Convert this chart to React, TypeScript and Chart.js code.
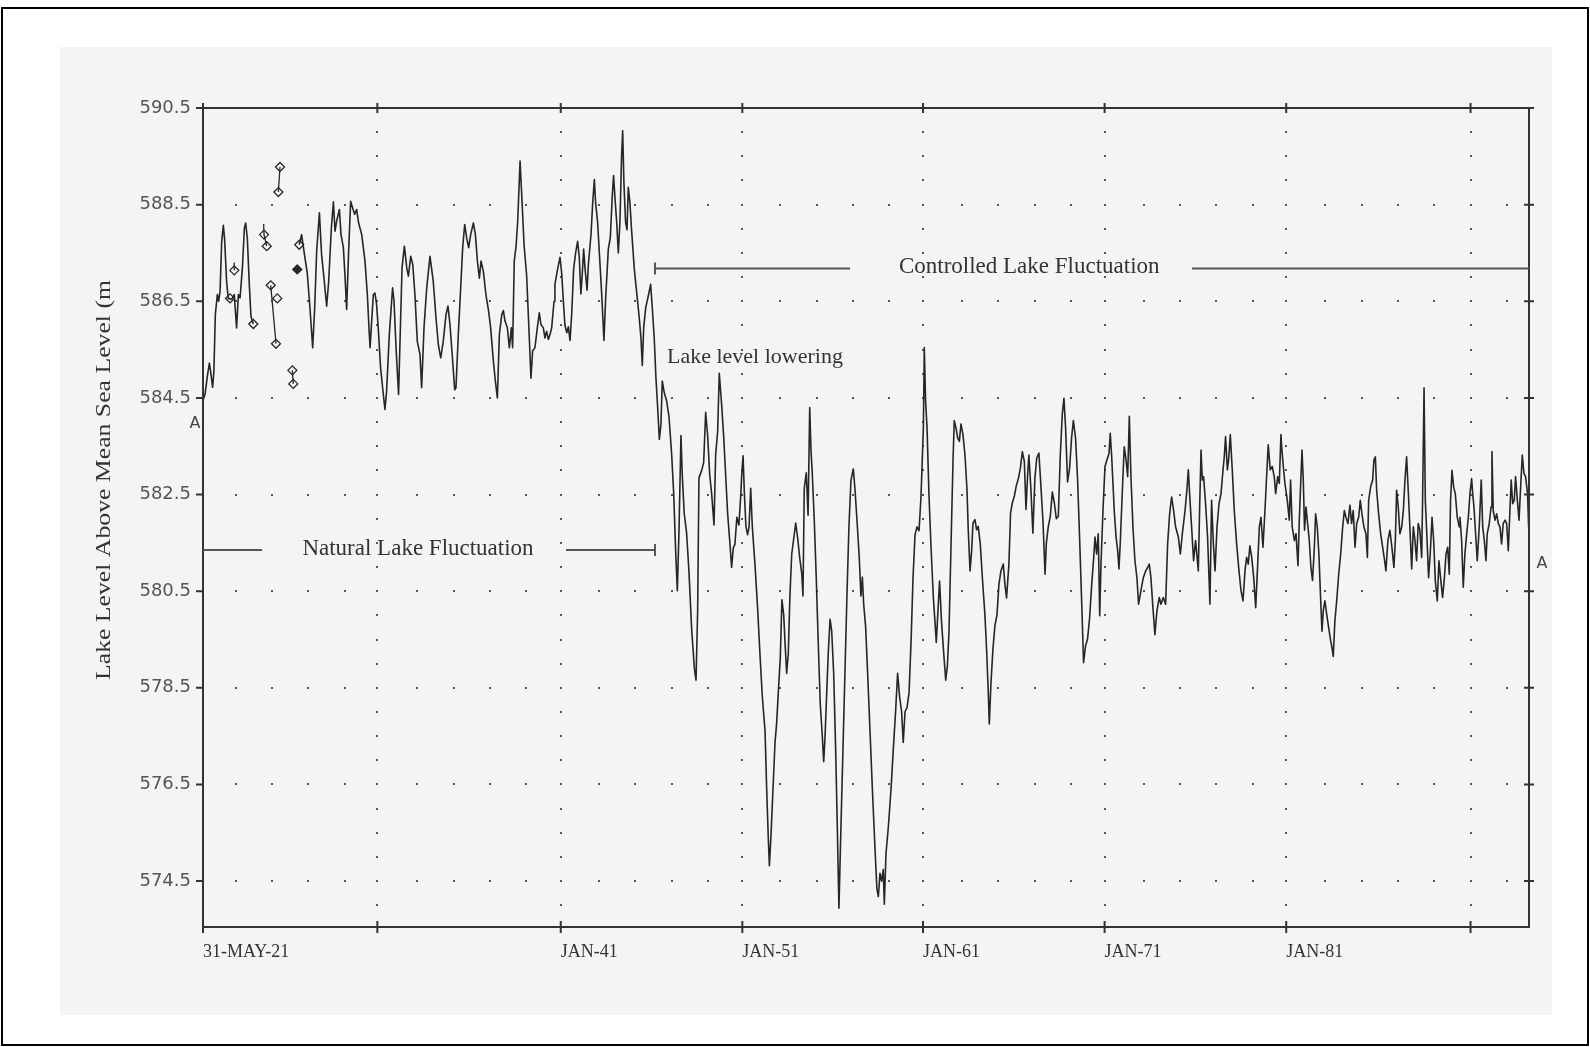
import { useEffect, useRef } from 'react';
import { Chart, registerables } from 'chart.js';

Chart.register(...registerables);

// ---------- axis definitions ----------
const X_MIN = 1921.4;
const X_MAX = 1994.42;
const Y_MIN = 573.55;
const Y_MAX = 590.5;
const xTickYears = [1921.4, 1931.0, 1941.1, 1951.1, 1961.05, 1971.05, 1981.05, 1991.2];
const xTickLabels = ['31-MAY-21', '', 'JAN-41', 'JAN-51', 'JAN-61', 'JAN-71', 'JAN-81', ''];
const yTickLevels = [574.5, 576.5, 578.5, 580.5, 582.5, 584.5, 586.5, 588.5, 590.5];
const yTitle = 'Lake Level Above Mean Sea Level (m';

// ---------- lake level series [year, level m] ----------
const natural1921: [number, number][] = [
  [1921.42, 584.47], [1921.51, 584.57], [1921.64, 584.95], [1921.75, 585.22], [1921.82, 585.05], [1921.93, 584.72],
  [1922.0, 585.05], [1922.08, 586.23], [1922.19, 586.64], [1922.26, 586.5], [1922.34, 586.71], [1922.43, 587.74],
  [1922.52, 588.07], [1922.59, 587.78], [1922.7, 586.91], [1922.79, 586.56], [1922.98, 586.54], [1923.12, 586.64],
  [1923.25, 585.95], [1923.35, 586.64], [1923.44, 586.57], [1923.57, 587.19], [1923.68, 588.02], [1923.75, 588.12],
  [1923.84, 587.81], [1923.95, 586.85], [1924.04, 586.19], [1924.17, 586.03],
];
const natural1926: [number, number][] = [
  [1926.7, 587.67], [1926.83, 587.88], [1926.96, 587.54], [1927.14, 587.09], [1927.29, 586.36], [1927.44, 585.54],
  [1927.55, 586.36], [1927.66, 587.54], [1927.81, 588.33], [1927.93, 587.47], [1928.08, 586.91], [1928.21, 586.4],
  [1928.32, 586.91], [1928.47, 588.02], [1928.58, 588.56], [1928.67, 587.95], [1928.76, 588.16], [1928.91, 588.4],
  [1929.0, 587.88], [1929.13, 587.61], [1929.22, 587.02], [1929.31, 586.33], [1929.42, 587.54], [1929.53, 588.57],
  [1929.64, 588.43], [1929.75, 588.3], [1929.86, 588.4], [1929.97, 588.12], [1930.14, 587.88], [1930.32, 587.33],
  [1930.45, 586.64], [1930.54, 585.95], [1930.6, 585.54],
];
const levels1930s: [number, number][] = [
  [1930.78, 586.64], [1930.87, 586.67], [1930.96, 586.43], [1931.05, 585.95], [1931.18, 585.12], [1931.33, 584.57],
  [1931.42, 584.26], [1931.51, 584.64], [1931.66, 585.81], [1931.75, 586.29], [1931.84, 586.78], [1931.92, 586.5],
  [1932.03, 585.54], [1932.17, 584.57], [1932.28, 586.09], [1932.36, 587.19], [1932.49, 587.64], [1932.62, 587.19],
  [1932.71, 587.02], [1932.84, 587.43], [1932.95, 587.26], [1933.07, 586.64], [1933.2, 585.67], [1933.35, 585.4],
  [1933.44, 584.71], [1933.57, 585.95], [1933.72, 586.78], [1933.9, 587.43], [1934.08, 586.91], [1934.23, 586.16],
  [1934.36, 585.6], [1934.49, 585.33], [1934.63, 585.67], [1934.78, 586.22], [1934.89, 586.4], [1935.0, 586.02],
  [1935.15, 585.26], [1935.26, 584.67], [1935.33, 584.71], [1935.46, 585.81], [1935.59, 586.78], [1935.7, 587.61],
  [1935.81, 588.09], [1935.92, 587.81], [1936.03, 587.61], [1936.14, 587.88], [1936.29, 588.12], [1936.4, 587.88],
  [1936.51, 587.33], [1936.62, 586.98], [1936.71, 587.33], [1936.84, 587.12], [1936.98, 586.64], [1937.13, 586.29],
  [1937.24, 585.95], [1937.39, 585.26], [1937.5, 584.85], [1937.61, 584.5], [1937.72, 585.81], [1937.85, 586.22],
  [1937.94, 586.31], [1938.03, 586.09], [1938.16, 585.95], [1938.27, 585.54], [1938.38, 585.95], [1938.45, 585.54],
  [1938.54, 587.33], [1938.64, 587.64], [1938.73, 588.16], [1938.86, 589.4], [1938.95, 588.71], [1939.08, 587.67],
  [1939.22, 587.05], [1939.33, 586.09], [1939.46, 584.91], [1939.55, 585.47], [1939.68, 585.54], [1939.81, 585.95],
  [1939.92, 586.26], [1940.01, 586.02], [1940.14, 585.95], [1940.23, 585.74], [1940.32, 585.88], [1940.42, 585.71],
  [1940.51, 585.81], [1940.6, 585.95], [1940.73, 586.5],
];
const levels1940s: [number, number][] = [
  [1940.78, 586.85], [1940.93, 587.17], [1941.06, 587.41], [1941.15, 587.09], [1941.24, 586.53], [1941.33, 586.01],
  [1941.43, 585.85], [1941.52, 585.97], [1941.61, 585.69], [1941.7, 586.21], [1941.81, 587.17], [1941.92, 587.5],
  [1942.03, 587.74], [1942.12, 587.41], [1942.21, 586.65], [1942.29, 587.09], [1942.36, 587.58], [1942.44, 587.17],
  [1942.55, 586.73], [1942.62, 587.25], [1942.77, 587.9], [1942.86, 588.54], [1942.95, 589.02], [1943.02, 588.54],
  [1943.13, 588.14], [1943.24, 587.41], [1943.35, 586.69], [1943.48, 585.69], [1943.57, 586.53], [1943.72, 587.58],
  [1943.83, 587.82], [1943.94, 588.7], [1944.01, 589.1], [1944.09, 588.62], [1944.18, 588.14], [1944.27, 587.5],
  [1944.36, 588.14], [1944.45, 589.5], [1944.51, 590.03], [1944.58, 588.94], [1944.67, 588.14], [1944.75, 587.98],
  [1944.82, 588.86], [1944.91, 588.54], [1945.0, 587.98], [1945.15, 587.17], [1945.28, 586.69], [1945.41, 586.21],
  [1945.52, 585.73], [1945.59, 585.17], [1945.67, 585.97], [1945.78, 586.37], [1945.92, 586.61], [1946.05, 586.85],
  [1946.14, 586.37], [1946.25, 585.73], [1946.34, 584.93], [1946.44, 584.28], [1946.53, 583.64], [1946.62, 583.96],
  [1946.69, 584.85], [1946.8, 584.61], [1946.93, 584.44], [1947.06, 584.12], [1947.21, 583.32], [1947.32, 582.52],
  [1947.43, 581.31], [1947.52, 580.51], [1947.61, 581.71], [1947.72, 583.72], [1947.79, 582.92], [1947.9, 582.11],
  [1948.03, 581.71], [1948.16, 580.91], [1948.31, 579.71], [1948.46, 578.9], [1948.55, 578.66], [1948.64, 580.11],
  [1948.71, 582.84], [1948.86, 583.0], [1948.97, 583.16], [1949.08, 584.2], [1949.19, 583.72], [1949.3, 582.92],
  [1949.41, 582.52], [1949.54, 581.87], [1949.63, 583.32], [1949.74, 583.8], [1949.83, 585.01], [1949.96, 584.36],
  [1950.07, 583.72], [1950.18, 582.92], [1950.29, 582.11], [1950.42, 581.47], [1950.51, 580.99], [1950.6, 581.39],
  [1950.69, 581.47], [1950.8, 582.03], [1950.91, 581.87], [1951.02, 582.52],
];
const levels1950s: [number, number][] = [
  [1951.06, 582.87], [1951.14, 583.3], [1951.21, 582.55], [1951.3, 581.83], [1951.39, 581.67], [1951.47, 581.83],
  [1951.56, 582.63], [1951.65, 581.83], [1951.8, 581.03], [1951.94, 580.16], [1952.07, 579.2], [1952.2, 578.32],
  [1952.35, 577.61], [1952.44, 576.41], [1952.53, 575.38], [1952.59, 574.82], [1952.68, 575.46], [1952.77, 576.25],
  [1952.9, 577.37], [1952.99, 577.77], [1953.08, 578.4], [1953.19, 579.12], [1953.28, 580.32], [1953.38, 580.0],
  [1953.45, 579.44], [1953.54, 578.8], [1953.63, 579.2], [1953.72, 580.4], [1953.82, 581.27], [1953.93, 581.59],
  [1954.04, 581.91], [1954.15, 581.59], [1954.26, 581.19], [1954.37, 580.87], [1954.44, 580.4], [1954.51, 582.63],
  [1954.62, 582.95], [1954.72, 582.07], [1954.81, 584.3], [1954.88, 583.42], [1954.95, 582.95], [1955.06, 581.99],
  [1955.17, 580.79], [1955.28, 579.44], [1955.39, 578.17], [1955.5, 577.53], [1955.58, 576.97], [1955.65, 577.45],
  [1955.74, 578.33], [1955.83, 579.2], [1955.93, 579.92], [1956.02, 579.68], [1956.13, 578.8], [1956.24, 577.21],
  [1956.33, 575.62], [1956.42, 573.94], [1956.53, 575.62], [1956.64, 577.21], [1956.75, 578.8], [1956.86, 580.4],
  [1956.97, 581.83], [1957.08, 582.79], [1957.21, 583.03], [1957.3, 582.63], [1957.41, 581.99], [1957.54, 581.19],
  [1957.63, 580.4], [1957.71, 580.79], [1957.78, 580.24], [1957.89, 579.76], [1958.0, 578.8], [1958.13, 577.61],
  [1958.26, 576.41], [1958.4, 575.22], [1958.51, 574.34], [1958.59, 574.18], [1958.68, 574.66], [1958.77, 574.5],
  [1958.86, 574.74], [1958.92, 574.02], [1959.01, 575.06], [1959.14, 575.62], [1959.29, 576.41], [1959.41, 577.21],
  [1959.54, 578.01], [1959.65, 578.8], [1959.76, 578.32], [1959.87, 578.01], [1959.96, 577.37], [1960.06, 578.01],
  [1960.17, 578.09], [1960.28, 578.4], [1960.39, 579.44], [1960.5, 580.79], [1960.61, 581.67], [1960.72, 581.83],
  [1960.83, 581.75], [1960.94, 582.47],
];
const levels1960s: [number, number][] = [
  [1961.07, 583.89], [1961.12, 585.54], [1961.19, 584.45], [1961.27, 583.89], [1961.38, 582.47], [1961.49, 581.42],
  [1961.62, 580.36], [1961.71, 579.86], [1961.78, 579.44], [1961.85, 579.93], [1961.96, 580.71], [1962.07, 579.86],
  [1962.2, 579.16], [1962.3, 578.66], [1962.39, 578.95], [1962.48, 579.65], [1962.59, 581.42], [1962.7, 583.18],
  [1962.77, 584.03], [1962.86, 583.89], [1962.96, 583.67], [1963.05, 583.6], [1963.14, 583.96], [1963.25, 583.74],
  [1963.36, 583.32], [1963.47, 582.62], [1963.54, 581.77], [1963.64, 580.92], [1963.73, 581.35], [1963.8, 581.91],
  [1963.91, 581.98], [1964.0, 581.77], [1964.09, 581.84], [1964.2, 581.49], [1964.33, 580.71], [1964.46, 580.0],
  [1964.55, 579.3], [1964.64, 578.45], [1964.7, 577.75], [1964.79, 578.59], [1964.9, 579.3], [1965.01, 579.79],
  [1965.12, 580.0], [1965.23, 580.64], [1965.34, 580.92], [1965.47, 581.06], [1965.56, 580.64], [1965.65, 580.36],
  [1965.78, 581.06], [1965.87, 582.12], [1965.97, 582.33], [1966.08, 582.47], [1966.19, 582.69], [1966.3, 582.83],
  [1966.41, 583.04], [1966.52, 583.39], [1966.63, 583.18], [1966.72, 582.19], [1966.81, 582.9], [1966.88, 583.32],
  [1966.99, 582.62], [1967.1, 581.7], [1967.21, 582.83], [1967.31, 583.25], [1967.43, 583.36], [1967.54, 582.69],
  [1967.66, 581.91], [1967.77, 580.85], [1967.84, 581.49], [1967.95, 581.84], [1968.06, 582.05], [1968.17, 582.55],
  [1968.28, 582.33], [1968.39, 582.0], [1968.5, 582.05], [1968.61, 583.32], [1968.72, 584.17], [1968.81, 584.49],
  [1968.9, 583.89], [1969.01, 582.76], [1969.12, 583.04], [1969.23, 583.67], [1969.33, 584.03], [1969.45, 583.67],
  [1969.56, 582.83], [1969.67, 581.63], [1969.78, 580.36], [1969.89, 579.02], [1970.0, 579.37], [1970.11, 579.51],
  [1970.22, 579.93], [1970.34, 580.64], [1970.45, 581.2],
];
const levels1970s: [number, number][] = [
  [1970.52, 581.62], [1970.61, 581.27], [1970.7, 581.69], [1970.78, 579.99], [1970.85, 581.06], [1970.96, 582.17],
  [1971.07, 583.08], [1971.18, 583.22], [1971.29, 583.35], [1971.36, 583.77], [1971.44, 583.28], [1971.51, 582.73],
  [1971.58, 582.17], [1971.68, 581.62], [1971.77, 581.34], [1971.84, 580.96], [1971.91, 581.48], [1972.02, 582.52],
  [1972.13, 583.49], [1972.23, 583.22], [1972.32, 582.87], [1972.41, 584.12], [1972.5, 582.87], [1972.61, 581.83],
  [1972.72, 581.13], [1972.83, 580.78], [1972.92, 580.23], [1973.05, 580.51], [1973.18, 580.78], [1973.31, 580.92],
  [1973.42, 580.99], [1973.51, 581.06], [1973.6, 580.78], [1973.71, 580.16], [1973.82, 579.6], [1973.93, 580.09],
  [1974.06, 580.37], [1974.15, 580.23], [1974.28, 580.37], [1974.41, 580.23], [1974.52, 581.48], [1974.63, 582.1],
  [1974.74, 582.45], [1974.85, 582.17], [1974.96, 581.83], [1975.11, 581.62], [1975.22, 581.27], [1975.33, 581.69],
  [1975.48, 582.17], [1975.58, 582.59], [1975.66, 583.01], [1975.73, 582.52], [1975.84, 581.83], [1975.95, 581.13],
  [1976.06, 581.55], [1976.21, 580.92], [1976.28, 582.17], [1976.36, 583.42], [1976.43, 582.8], [1976.5, 582.87],
  [1976.61, 582.31], [1976.72, 581.62], [1976.85, 580.23], [1976.94, 582.38], [1977.04, 581.48], [1977.13, 580.92],
  [1977.24, 581.83], [1977.35, 582.31], [1977.46, 582.52], [1977.57, 583.01], [1977.64, 583.28], [1977.71, 583.7],
  [1977.81, 583.01], [1977.88, 583.22], [1977.97, 583.74], [1978.08, 583.01], [1978.19, 582.17], [1978.32, 581.48],
  [1978.45, 580.92], [1978.56, 580.51], [1978.67, 580.3], [1978.78, 580.92], [1978.87, 581.2], [1978.96, 581.06],
  [1979.05, 581.44], [1979.15, 581.2], [1979.26, 580.78], [1979.37, 580.16], [1979.48, 581.06], [1979.57, 581.83],
  [1979.66, 582.03], [1979.77, 581.41], [1979.88, 582.17], [1979.97, 582.87], [1980.06, 583.53], [1980.17, 583.01],
  [1980.28, 583.08], [1980.39, 582.87], [1980.47, 582.52], [1980.58, 582.87], [1980.67, 582.73], [1980.76, 583.74],
];
const levels1980s: [number, number][] = [
  [1980.8, 583.49], [1980.89, 583.08], [1980.98, 582.73], [1981.11, 582.38], [1981.22, 581.97], [1981.29, 582.8],
  [1981.38, 581.83], [1981.5, 581.55], [1981.59, 581.69], [1981.7, 581.03], [1981.77, 581.97], [1981.84, 582.66],
  [1981.92, 583.42], [1981.99, 582.8], [1982.06, 581.76], [1982.14, 582.24], [1982.23, 581.9], [1982.32, 581.55],
  [1982.41, 581.0], [1982.5, 580.72], [1982.6, 581.41], [1982.67, 582.1], [1982.76, 581.83], [1982.85, 581.27],
  [1982.95, 580.3], [1983.02, 579.67], [1983.09, 580.09], [1983.18, 580.3], [1983.28, 580.02], [1983.39, 579.74],
  [1983.5, 579.47], [1983.57, 579.33], [1983.64, 579.15], [1983.73, 579.88], [1983.83, 580.3], [1983.94, 580.85],
  [1984.05, 581.27], [1984.16, 581.83], [1984.25, 582.17], [1984.34, 582.03], [1984.45, 581.9], [1984.56, 582.28],
  [1984.65, 581.9], [1984.74, 582.17], [1984.84, 581.41], [1984.93, 581.9], [1985.04, 582.03], [1985.13, 582.38],
  [1985.22, 582.1], [1985.33, 581.83], [1985.44, 581.69], [1985.52, 581.2], [1985.59, 582.38], [1985.7, 582.66],
  [1985.81, 582.8], [1985.88, 583.22], [1985.96, 583.28], [1986.03, 582.59], [1986.14, 582.1], [1986.25, 581.69],
  [1986.36, 581.41], [1986.47, 581.13], [1986.54, 580.92], [1986.65, 581.55], [1986.76, 581.76], [1986.87, 581.41],
  [1986.98, 580.99], [1987.06, 581.55], [1987.13, 582.59], [1987.22, 582.24], [1987.31, 581.69], [1987.41, 581.83],
  [1987.5, 582.17], [1987.59, 582.8], [1987.68, 583.28], [1987.77, 582.59], [1987.86, 581.83], [1987.96, 580.96],
  [1988.05, 581.83], [1988.14, 581.55], [1988.23, 581.13], [1988.32, 581.9], [1988.41, 581.76], [1988.51, 581.2],
  [1988.56, 582.38], [1988.64, 584.71], [1988.71, 582.38], [1988.8, 581.62], [1988.89, 580.78], [1988.98, 581.27],
  [1989.08, 582.03], [1989.17, 581.55], [1989.26, 580.72], [1989.37, 580.3], [1989.46, 581.13], [1989.55, 580.78],
  [1989.66, 580.37], [1989.75, 580.72], [1989.85, 581.27], [1989.94, 581.41], [1990.03, 580.85], [1990.1, 582.38],
  [1990.18, 583.0], [1990.27, 582.66], [1990.36, 582.52], [1990.47, 582.03], [1990.58, 581.83],
];
const levels1990s: [number, number][] = [
  [1990.62, 582.03], [1990.71, 581.55], [1990.8, 580.58], [1990.89, 581.27], [1990.99, 581.69], [1991.08, 582.03],
  [1991.17, 582.52], [1991.26, 582.83], [1991.32, 582.52], [1991.39, 582.24], [1991.48, 581.69], [1991.57, 581.13],
  [1991.68, 581.83], [1991.79, 582.8], [1991.87, 581.83], [1991.96, 581.55], [1992.05, 581.13], [1992.12, 581.69],
  [1992.23, 581.9], [1992.33, 582.24], [1992.38, 583.39], [1992.45, 582.17], [1992.55, 581.97], [1992.64, 582.1],
  [1992.73, 581.9], [1992.82, 581.83], [1992.91, 581.48], [1993.0, 581.9], [1993.1, 581.97], [1993.19, 581.9],
  [1993.28, 581.34], [1993.37, 582.17], [1993.44, 582.8], [1993.52, 582.31], [1993.61, 582.38], [1993.68, 582.87],
  [1993.78, 582.38], [1993.87, 581.97], [1993.96, 582.66], [1994.05, 583.32], [1994.14, 582.94], [1994.23, 582.87],
  [1994.34, 582.52], [1994.4, 581.83],
];

// ---------- discrete early gauge readings (diamonds) ----------
const gaugeYears = [1922.89, 1923.12, 1924.17, 1924.76, 1924.91, 1925.13, 1925.42, 1925.49, 1925.55, 1925.64, 1926.32, 1926.37, 1926.59, 1926.7];
const gaugeLevels = [586.56, 587.14, 586.03, 587.88, 587.64, 586.83, 585.62, 586.56, 588.76, 589.28, 585.07, 584.79, 587.16, 587.67];
const gaugeFilled = [false, false, false, false, false, false, false, false, false, false, false, false, true, false];
const gaugeLinks: [number, number][][] = [
  [[1923.12, 587.3], [1923.12, 587.14]],
  [[1924.74, 588.1], [1924.76, 587.88], [1924.91, 587.64]],
  [[1925.13, 586.83], [1925.42, 585.62]],
  [[1925.55, 588.76], [1925.64, 589.28]],
  [[1926.32, 585.07], [1926.37, 584.79]],
];

// ---------- annotation positions (data coordinates) ----------
const naturalLevel = 581.35;
const naturalLeftLine = [1921.4, 1924.65];
const naturalTextYear = 1933.24;
const naturalRightLine = [1941.39, 1946.29];
const controlledLevel = 587.18;
const controlledLeftLine = [1946.29, 1957.03];
const controlledTextYear = 1966.9;
const controlledRightLine = [1975.86, 1994.42];
const loweringYear = 1946.95;
const loweringLevel = 585.35;

const toPts = (arr: [number, number][]) => arr.map(([x, y]) => ({ x, y }));

const mainData = [
  ...toPts(natural1921),
  { x: 1925.4, y: null as any },
  ...toPts(natural1926),
  ...toPts(levels1930s),
  ...toPts(levels1940s),
  ...toPts(levels1950s),
  ...toPts(levels1960s),
  ...toPts(levels1970s),
  ...toPts(levels1980s),
  ...toPts(levels1990s),
];

const linkData: any[] = [];
gaugeLinks.forEach((seg, i) => {
  if (i > 0) linkData.push({ x: seg[0][0] - 0.01, y: null });
  seg.forEach(([x, y]) => linkData.push({ x, y }));
});

const gaugeData = gaugeYears.map((x, i) => ({ x, y: gaugeLevels[i] }));

const INK = '#262626';
const BG = '#f4f4f4';

const decor = {
  id: 'decor',
  beforeDraw(chart: any) {
    const { ctx, width, height } = chart;
    ctx.save();
    ctx.fillStyle = '#ffffff';
    ctx.fillRect(0, 0, width, height);
    ctx.fillStyle = BG;
    ctx.fillRect(60, 47, 1492, 968);
    ctx.strokeStyle = '#000';
    ctx.lineWidth = 2;
    ctx.strokeRect(2, 8, width - 4, height - 10);
    ctx.restore();
  },
  beforeDatasetsDraw(chart: any) {
    const { ctx } = chart;
    const xs = chart.scales.x;
    const ys = chart.scales.y;
    ctx.save();
    ctx.fillStyle = '#555';
    // dotted vertical grid lines
    for (const t of xTickYears.slice(1)) {
      const px = Math.round(xs.getPixelForValue(t));
      for (let v = 574.0; v <= 590.01; v += 0.5) {
        const py = Math.round(ys.getPixelForValue(v));
        ctx.fillRect(px - 1, py - 1, 2, 2);
      }
    }
    // dotted horizontal grid lines
    for (const lv of yTickLevels.slice(0, -1)) {
      const py = Math.round(ys.getPixelForValue(lv));
      for (let yr = 1923.2; yr < X_MAX - 0.5; yr += 2) {
        if (xTickYears.some((t) => Math.abs(t - yr) < 0.6)) continue;
        const px = Math.round(xs.getPixelForValue(yr));
        ctx.fillRect(px - 1, py - 1, 2, 2);
      }
    }
    ctx.restore();
  },
  afterDatasetsDraw(chart: any) {
    const { ctx, chartArea } = chart;
    const { left, right, top, bottom } = chartArea;
    const xs = chart.scales.x;
    const ys = chart.scales.y;
    ctx.save();
    // frame
    ctx.strokeStyle = '#333';
    ctx.lineWidth = 2;
    ctx.strokeRect(left, top, right - left, bottom - top);
    ctx.beginPath();
    ctx.moveTo(left, bottom);
    ctx.lineTo(left, bottom + 6);
    for (const lv of yTickLevels) {
      const py = ys.getPixelForValue(lv);
      ctx.moveTo(left - 7, py);
      ctx.lineTo(left, py);
      ctx.moveTo(right - 5, py);
      ctx.lineTo(right + 5, py);
    }
    for (const t of xTickYears) {
      const px = xs.getPixelForValue(t);
      ctx.moveTo(px, bottom - 6);
      ctx.lineTo(px, bottom + 6);
      ctx.moveTo(px, top - 5);
      ctx.lineTo(px, top + 5);
    }
    ctx.stroke();

    // annotation lines
    ctx.strokeStyle = '#555';
    ctx.lineWidth = 2;
    const nY = ys.getPixelForValue(naturalLevel);
    const cY = ys.getPixelForValue(controlledLevel);
    ctx.beginPath();
    ctx.moveTo(xs.getPixelForValue(naturalLeftLine[0]), nY);
    ctx.lineTo(xs.getPixelForValue(naturalLeftLine[1]), nY);
    ctx.moveTo(xs.getPixelForValue(naturalRightLine[0]), nY);
    ctx.lineTo(xs.getPixelForValue(naturalRightLine[1]), nY);
    ctx.moveTo(xs.getPixelForValue(naturalRightLine[1]), nY - 6);
    ctx.lineTo(xs.getPixelForValue(naturalRightLine[1]), nY + 6);
    ctx.moveTo(xs.getPixelForValue(controlledLeftLine[0]), cY - 6);
    ctx.lineTo(xs.getPixelForValue(controlledLeftLine[0]), cY + 6);
    ctx.moveTo(xs.getPixelForValue(controlledLeftLine[0]), cY);
    ctx.lineTo(xs.getPixelForValue(controlledLeftLine[1]), cY);
    ctx.moveTo(xs.getPixelForValue(controlledRightLine[0]), cY);
    ctx.lineTo(xs.getPixelForValue(controlledRightLine[1]), cY);
    ctx.stroke();

    // annotation texts
    ctx.fillStyle = '#333';
    ctx.textBaseline = 'middle';
    ctx.textAlign = 'center';
    ctx.font = '23px "Liberation Serif"';
    ctx.fillText('Natural Lake Fluctuation', xs.getPixelForValue(naturalTextYear), nY - 1);
    ctx.fillText('Controlled Lake Fluctuation', xs.getPixelForValue(controlledTextYear), cY - 1);
    ctx.textAlign = 'left';
    ctx.font = '22px "Liberation Serif"';
    ctx.fillText('Lake level lowering', xs.getPixelForValue(loweringYear), ys.getPixelForValue(loweringLevel));

    // section marks "A"
    ctx.font = '16px "DejaVu Sans"';
    ctx.fillStyle = '#444';
    ctx.textAlign = 'center';
    ctx.fillText('A', left - 8, ys.getPixelForValue(583.97));
    ctx.fillText('A', right + 13, ys.getPixelForValue(581.07));

    // y axis title
    ctx.save();
    ctx.translate(105, 480);
    ctx.rotate(-Math.PI / 2);
    ctx.font = '20px "Liberation Serif"';
    ctx.fillStyle = '#333';
    ctx.textAlign = 'center';
    const w = ctx.measureText(yTitle).width;
    ctx.scale(400 / w, 1);
    ctx.fillText(yTitle, 0, 0);
    ctx.restore();

    ctx.restore();
  },
};

export default function App() {
  const ref = useRef<HTMLCanvasElement>(null);
  useEffect(() => {
    if (!ref.current) return;
    const chart = new Chart(ref.current, {
      type: 'line',
      data: {
        datasets: [
          {
            label: 'Lake level',
            data: mainData,
            borderColor: INK,
            borderWidth: 1.6,
            pointRadius: 0,
            tension: 0,
            spanGaps: false,
            borderJoinStyle: 'round',
          },
          {
            label: 'Gauge links',
            data: linkData,
            borderColor: INK,
            borderWidth: 1.3,
            pointRadius: 0,
            spanGaps: false,
          },
          {
            label: 'Gauge readings',
            data: gaugeData,
            showLine: false,
            pointStyle: 'rectRot',
            pointRadius: 4.5,
            pointBorderWidth: 1.3,
            pointBorderColor: INK,
            pointBackgroundColor: gaugeFilled.map((f) => (f ? INK : BG)),
          },
        ],
      } as any,
      options: {
        responsive: false,
        animation: false,
        devicePixelRatio: 1,
        layout: { padding: { left: 0, top: 108, right: 61, bottom: 60 } },
        plugins: { legend: { display: false }, tooltip: { enabled: false } },
        scales: {
          x: {
            type: 'linear',
            min: X_MIN,
            max: X_MAX,
            afterBuildTicks: (s: any) => {
              s.ticks = xTickYears.map((v) => ({ value: v }));
            },
            afterFit: (s: any) => {
              s.height = 60;
            },
            ticks: {
              autoSkip: false,
              maxRotation: 0,
              align: 'start',
              padding: 14,
              color: '#333',
              font: { family: '"Liberation Serif"', size: 18 },
              callback: (_v: any, i: number) => xTickLabels[i],
            },
            grid: { display: false, drawTicks: false },
            border: { display: false },
          },
          y: {
            type: 'linear',
            min: Y_MIN,
            max: Y_MAX,
            afterBuildTicks: (s: any) => {
              s.ticks = yTickLevels.map((v) => ({ value: v }));
            },
            afterFit: (s: any) => {
              s.width = 203;
            },
            ticks: {
              autoSkip: false,
              padding: 12,
              color: '#555',
              font: { family: '"DejaVu Sans"', size: 18 },
              callback: (v: any) => Number(v).toFixed(1),
            },
            grid: { display: false, drawTicks: false },
            border: { display: false },
          },
        },
      } as any,
      plugins: [decor],
    });
    return () => chart.destroy();
  }, []);
  return (
    <div style={{ position: 'fixed', left: 0, top: 0, width: 1590, height: 1047, background: '#fff' }}>
      <canvas ref={ref} width={1590} height={1047} style={{ display: 'block', width: 1590, height: 1047 }} />
    </div>
  );
}
